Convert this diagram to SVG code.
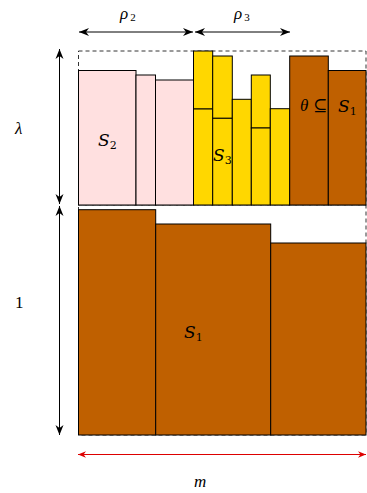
<svg xmlns="http://www.w3.org/2000/svg" width="367" height="493" viewBox="0 0 367 493">
<style>
.pink{fill:#FFE0E0;stroke:#000;stroke-width:1}
.yel{fill:#FFD700;stroke:#000;stroke-width:1}
.brn{fill:#BF6000;stroke:#000;stroke-width:1}
.dash{fill:none;stroke:#000;stroke-width:0.8;stroke-dasharray:4,3}
.arr{stroke:#000;stroke-width:1;fill:none}
.red{stroke:#DD0000;stroke-width:1;fill:none}
text{font-family:"Liberation Serif","DejaVu Serif",serif;fill:#000}
.it{font-style:italic}
.lbl{font-size:17px}
.cal{font-family:"DejaVu Serif","Liberation Serif",serif;font-style:italic;font-size:17px}
.sub{font-size:11px;font-style:normal}
</style>
<defs>
<marker id="ah" viewBox="0 0 10 10" refX="10" refY="5" markerWidth="10" markerHeight="10" markerUnits="userSpaceOnUse" orient="auto-start-reverse">
<path d="M0,1 L10,5 L0,9 L3,5 z" fill="#000"/>
</marker>
<marker id="ahr" viewBox="0 0 10 10" refX="10" refY="5" markerWidth="10" markerHeight="8" markerUnits="userSpaceOnUse" orient="auto-start-reverse">
<path d="M0,1 L10,5 L0,9 L3,5 z" fill="#DD0000"/>
</marker>
</defs>

<g id="dashed-box">
<rect class="dash" x="78.5" y="51" width="287.5" height="154"/>
<rect class="dash" x="78.5" y="205" width="287.5" height="230"/>
</g>

<g id="S2">
<rect class="pink" x="78.5" y="70.5" width="57.5" height="134.5"/>
<rect class="pink" x="136" y="75" width="19.5" height="130"/>
<rect class="pink" x="155.5" y="80" width="38.5" height="125"/>
<text class="cal" x="98" y="146">S<tspan class="sub" dy="3">2</tspan></text>
</g>

<g id="S3">
<rect class="yel" x="193.5" y="51" width="19.2" height="58"/>
<rect class="yel" x="193.5" y="109" width="19.2" height="96"/>
<rect class="yel" x="212.7" y="56" width="19.6" height="62.3"/>
<rect class="yel" x="212.7" y="118.3" width="19.6" height="86.7"/>
<rect class="yel" x="232.3" y="99.3" width="19" height="105.7"/>
<rect class="yel" x="251.3" y="75" width="19" height="53"/>
<rect class="yel" x="251.3" y="128" width="19" height="77"/>
<rect class="yel" x="270.3" y="108.7" width="19.4" height="96.3"/>
<text class="cal" x="213" y="161">S<tspan class="sub" dy="3">3</tspan></text>
</g>

<g id="theta">
<rect class="brn" x="289.7" y="56" width="38.6" height="149"/>
<rect class="brn" x="328.3" y="70.5" width="37.7" height="134.5"/>
<text x="300" y="111" class="it lbl">θ</text>
<text x="313" y="111" class="lbl">⊆</text>
<text class="cal" x="338" y="112">S<tspan class="sub" dy="3">1</tspan></text>
</g>

<g id="S1">
<rect class="brn" x="78.5" y="209.7" width="77.2" height="225.3"/>
<rect class="brn" x="155.7" y="224" width="115" height="211"/>
<rect class="brn" x="270.7" y="243" width="95.3" height="192"/>
<text class="cal" x="184" y="338">S<tspan class="sub" dy="3">1</tspan></text>
</g>

<g id="connectors">
<line class="arr" x1="79" y1="32" x2="193" y2="32" marker-start="url(#ah)" marker-end="url(#ah)"/>
<line class="arr" x1="195" y1="32" x2="290" y2="32" marker-start="url(#ah)" marker-end="url(#ah)"/>
<line class="arr" x1="59.5" y1="49" x2="59.5" y2="204" marker-start="url(#ah)" marker-end="url(#ah)"/>
<line class="arr" x1="59.5" y1="206" x2="59.5" y2="435" marker-start="url(#ah)" marker-end="url(#ah)"/>
<line class="red" x1="78" y1="454.5" x2="366" y2="454.5" marker-start="url(#ahr)" marker-end="url(#ahr)"/>
</g>

<g id="labels">
<text x="120" y="19" class="it lbl">ρ<tspan class="sub" dx="2" dy="2">2</tspan></text>
<text x="234" y="19" class="it lbl">ρ<tspan class="sub" dx="2" dy="2">3</tspan></text>
<text x="15" y="134" class="it lbl">λ</text>
<text x="15" y="308" class="lbl">1</text>
<text x="194" y="487" class="it lbl">m</text>
</g>
</svg>
